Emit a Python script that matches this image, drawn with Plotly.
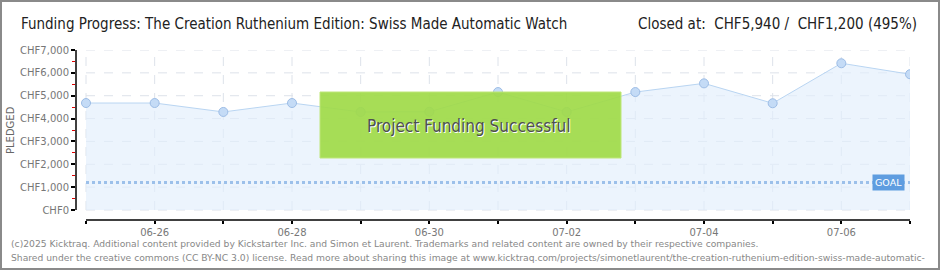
import plotly.graph_objects as go

dates = ["06-25", "06-26", "06-27", "06-28", "06-29", "06-30", "07-01",
         "07-02", "07-03", "07-04", "07-05", "07-06", "07-07"]
pledged = [4680, 4680, 4290, 4680, 4290, 4300, 5160, 4290, 5160, 5540, 4670, 6420, 5940]
goal = 1200
y_ticks = [0, 1000, 2000, 3000, 4000, 5000, 6000, 7000]
y_labels = ["CHF0", "CHF1,000", "CHF2,000", "CHF3,000", "CHF4,000", "CHF5,000", "CHF6,000", "CHF7,000"]
y_minor = [500, 1500, 2500, 3500, 4500, 5500, 6500]
x_labels = [d if i % 2 == 1 else "" for i, d in enumerate(dates)]

W, H = 940, 270
ML, MR, MT, MB = 76, 30, 50, 50
PW, PH = W - ML - MR, H - MT - MB

idx = list(range(len(dates)))
day_px = (910 - 86) / (len(dates) - 1)
x_lo = -10 / day_px
x_hi = idx[-1]
y_hi = 7000
unit_px = 160 / y_hi
y_lo = -10 / unit_px


def xp(v):
    return (v - x_lo) / (x_hi - x_lo)


def yp(v):
    return (v - y_lo) / (y_hi - y_lo)


TICKFONT = dict(family="DejaVu Sans", size=10, color="#777777")
HEADFONT = "DejaVu Sans Condensed"

fig = go.Figure()
fig.add_trace(go.Scatter(
    x=idx, y=pledged, mode="lines+markers", fill="tozeroy",
    fillcolor="rgba(226,238,252,0.65)",
    line=dict(color="#b9d5f2", width=1),
    marker=dict(size=9, color="#c4dbf6", line=dict(color="#9dbde6", width=1)),
    hoverinfo="skip", showlegend=False,
))

shapes = []
for i in idx:
    shapes.append(dict(type="line", xref="x", yref="y", x0=i, x1=i, y0=0, y1=y_hi,
                       line=dict(color="#dde2ea", width=1, dash="dash"), layer="below"))
for v in y_ticks:
    shapes.append(dict(type="line", xref="x", yref="y", x0=idx[0], x1=idx[-1], y0=v, y1=v,
                       line=dict(color="#dde2ea", width=1, dash="dash"), layer="below"))
shapes.append(dict(type="line", xref="paper", yref="paper", x0=0, x1=0, y0=yp(0), y1=yp(y_hi),
                   line=dict(color="#000000", width=1.5)))
shapes.append(dict(type="line", xref="paper", yref="paper", x0=xp(idx[0]), x1=xp(idx[-1]), y0=0, y1=0,
                   line=dict(color="#000000", width=1.5)))
shapes.append(dict(type="line", xref="x", yref="y", x0=idx[0], x1=idx[-1], y0=goal, y1=goal,
                   line=dict(color="#9cc0ea", width=3, dash="dot")))
shapes.append(dict(type="rect", xref="paper", yref="paper",
                   x0=(320 - ML) / PW, x1=(621 - ML) / PW,
                   y0=(H - MB - 158) / PH, y1=(H - MB - 92) / PH,
                   fillcolor="rgba(160,218,72,0.92)", line=dict(color="rgba(190,230,120,1)", width=1)))
shapes.append(dict(type="rect", xref="paper", yref="paper",
                   x0=(-ML + 1) / PW, x1=(W - ML - 1) / PW,
                   y0=(-MB + 1) / PH, y1=(H - MB - 1) / PH,
                   line=dict(color="#8a8a8a", width=2), fillcolor="rgba(0,0,0,0)", layer="above"))


def px_x(p):
    return (p - ML) / PW


def px_y(p):
    return (H - MB - p) / PH


annotations = [
    dict(text="Funding Progress: The Creation Ruthenium Edition: Swiss Made Automatic Watch",
         xref="paper", yref="paper", x=px_x(19), y=px_y(24), xanchor="left", yanchor="middle",
         showarrow=False, font=dict(family=HEADFONT, size=15, color="#222222")),
    dict(text="Closed at:  CHF5,940 /  CHF1,200 (495%)",
         xref="paper", yref="paper", x=px_x(919), y=px_y(24), xanchor="right", yanchor="middle",
         showarrow=False, font=dict(family=HEADFONT, size=15, color="#222222")),
    dict(text="PLEDGED", xref="paper", yref="paper", x=px_x(10), y=px_y(130), textangle=-90,
         xanchor="center", yanchor="middle", showarrow=False,
         font=dict(family="DejaVu Sans", size=10, color="#666666")),
    dict(text="Project Funding Successful", xref="paper", yref="paper",
         x=px_x(469), y=px_y(126), xanchor="center", yanchor="middle", showarrow=False,
         font=dict(family=HEADFONT, size=17, color="#4f4f4f",
                   shadow="1px 1px 0px #ffffff")),
    dict(text="GOAL", xref="x", yref="y", x=idx[-1], y=goal, xanchor="right", yanchor="middle",
         xshift=-5, showarrow=False, bgcolor="#5f9de0", borderpad=2,
         font=dict(family="DejaVu Sans", size=9.5, color="#ffffff")),
    dict(text="(c)2025 Kicktraq. Additional content provided by Kickstarter Inc. and Simon et Laurent. Trademarks and related content are owned by their respective companies.",
         xref="paper", yref="paper", x=px_x(9), y=px_y(243), xanchor="left", yanchor="middle",
         showarrow=False, font=dict(family="DejaVu Sans", size=9.2, color="#888888")),
    dict(text="Shared under the creative commons (CC BY-NC 3.0) license. Read more about sharing this image at www.kicktraq.com/projects/simonetlaurent/the-creation-ruthenium-edition-swiss-made-automatic-",
         xref="paper", yref="paper", x=px_x(9), y=px_y(257), xanchor="left", yanchor="middle",
         showarrow=False, font=dict(family="DejaVu Sans", size=9.2, color="#888888")),
]

fig.update_layout(
    width=W, height=H, margin=dict(l=ML, r=MR, t=MT, b=MB),
    paper_bgcolor="#ffffff", plot_bgcolor="#ffffff",
    shapes=shapes, annotations=annotations, showlegend=False,
    xaxis=dict(range=[x_lo, x_hi], tickvals=idx, ticktext=x_labels, showgrid=False,
               zeroline=False, showline=False, ticks="outside", ticklen=3, tickcolor="#000000",
               tickwidth=1.5, tickfont=TICKFONT, fixedrange=True),
    yaxis=dict(range=[y_lo, y_hi], tickvals=y_ticks, ticktext=y_labels, showgrid=False,
               zeroline=False, showline=False, ticks="outside", ticklen=4, tickcolor="#000000",
               tickwidth=1.5, tickfont=TICKFONT, fixedrange=True,
               minor=dict(tickvals=y_minor, ticks="outside",
                          ticklen=3, tickcolor="#e00000", tickwidth=1)),
)

fig.write_html("out.html")
